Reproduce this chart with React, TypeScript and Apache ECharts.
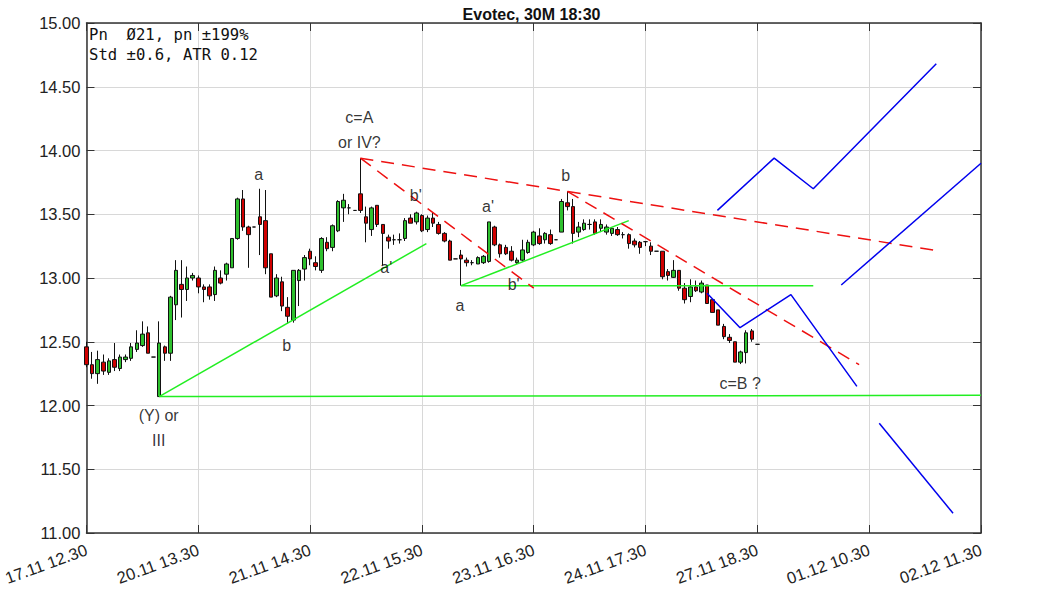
import React, { useEffect, useRef } from "react";
import * as echarts from "echarts";

const tickLabels = ["17.11 12.30", "20.11 13.30", "21.11 14.30", "22.11 15.30", "23.11 16.30", "24.11 17.30", "27.11 18.30", "01.12 10.30", "02.12 11.30"];
const slotCount = 161;
const labelStep = 20;

// [open, close, low, high]
const candles: number[][] = [
  [12.46, 12.32, 12.30, 12.50], [12.32, 12.25, 12.21, 12.42], [12.25, 12.36, 12.17, 12.43], [12.34, 12.27, 12.24, 12.40],
  [12.26, 12.35, 12.24, 12.37], [12.36, 12.30, 12.27, 12.49], [12.29, 12.38, 12.27, 12.40], [12.36, 12.38, 12.34, 12.40],
  [12.37, 12.46, 12.35, 12.49], [12.44, 12.49, 12.42, 12.59], [12.47, 12.56, 12.46, 12.66], [12.57, 12.41, 12.41, 12.62],
  [12.38, 12.38, 12.38, 12.38], [12.07, 12.49, 12.07, 12.66], [12.46, 12.41, 12.35, 12.47], [12.41, 12.85, 12.35, 12.86],
  [12.79, 13.06, 12.67, 13.14], [12.95, 12.91, 12.69, 13.14], [12.91, 13.00, 12.82, 13.09], [13.00, 13.02, 12.98, 13.04],
  [13.00, 12.93, 12.88, 13.02], [12.93, 12.91, 12.81, 12.95], [12.93, 12.86, 12.83, 12.95], [12.87, 13.06, 12.82, 13.09],
  [13.00, 12.96, 12.95, 13.06], [13.03, 13.11, 12.98, 13.12], [13.08, 13.31, 13.08, 13.31], [13.31, 13.62, 13.30, 13.63],
  [13.62, 13.40, 13.37, 13.69], [13.40, 13.34, 13.08, 13.41], [13.40, 13.40, 13.40, 13.40], [13.48, 13.42, 13.18, 13.70],
  [13.45, 13.08, 13.03, 13.69], [13.19, 12.85, 12.85, 13.19], [12.86, 13.00, 12.85, 13.03], [12.97, 12.78, 12.74, 13.01],
  [12.77, 12.70, 12.64, 12.85], [12.67, 13.06, 12.65, 13.06], [12.98, 13.06, 12.78, 13.07], [13.07, 13.16, 12.98, 13.18],
  [13.21, 13.15, 13.10, 13.23], [13.12, 13.09, 13.06, 13.17], [13.06, 13.31, 13.04, 13.32], [13.28, 13.23, 13.21, 13.32],
  [13.24, 13.41, 13.21, 13.42], [13.37, 13.60, 13.36, 13.61], [13.55, 13.61, 13.44, 13.66], [13.55, 13.55, 13.50, 13.58],
  [13.53, 13.53, 13.53, 13.53], [13.66, 13.53, 13.51, 13.94], [13.48, 13.43, 13.28, 13.56], [13.38, 13.55, 13.33, 13.56],
  [13.57, 13.42, 13.40, 13.57], [13.42, 13.35, 13.10, 13.42], [13.32, 13.29, 13.23, 13.34], [13.30, 13.30, 13.26, 13.34],
  [13.30, 13.30, 13.27, 13.35], [13.31, 13.45, 13.29, 13.47], [13.47, 13.43, 13.43, 13.50], [13.44, 13.51, 13.42, 13.52],
  [13.49, 13.37, 13.36, 13.50], [13.38, 13.47, 13.36, 13.49], [13.47, 13.43, 13.40, 13.51], [13.42, 13.35, 13.34, 13.44],
  [13.35, 13.29, 13.28, 13.36], [13.29, 13.14, 13.14, 13.30], [13.15, 13.15, 13.15, 13.15], [13.18, 13.15, 12.94, 13.22],
  [13.14, 13.12, 13.09, 13.16], [13.12, 13.12, 13.10, 13.14], [13.11, 13.16, 13.11, 13.17], [13.12, 13.17, 13.11, 13.18],
  [13.13, 13.44, 13.12, 13.44], [13.40, 13.26, 13.25, 13.41], [13.26, 13.19, 13.16, 13.27], [13.24, 13.19, 13.18, 13.26],
  [13.21, 13.14, 13.13, 13.25], [13.12, 13.14, 13.11, 13.16], [13.14, 13.22, 13.13, 13.30], [13.20, 13.28, 13.19, 13.30],
  [13.26, 13.36, 13.25, 13.37], [13.33, 13.27, 13.26, 13.39], [13.30, 13.35, 13.27, 13.36], [13.34, 13.27, 13.26, 13.38],
  [13.30, 13.30, 13.30, 13.30], [13.36, 13.60, 13.36, 13.62], [13.59, 13.56, 13.53, 13.68], [13.56, 13.35, 13.27, 13.62],
  [13.36, 13.40, 13.32, 13.44], [13.38, 13.43, 13.37, 13.46], [13.42, 13.42, 13.38, 13.46], [13.44, 13.35, 13.34, 13.46],
  [13.39, 13.42, 13.36, 13.46], [13.36, 13.40, 13.34, 13.42], [13.35, 13.39, 13.33, 13.40], [13.38, 13.34, 13.33, 13.40],
  [13.34, 13.34, 13.31, 13.36], [13.34, 13.27, 13.23, 13.35], [13.29, 13.26, 13.24, 13.31], [13.28, 13.24, 13.19, 13.29],
  [13.285, 13.285, 13.25, 13.29], [13.25, 13.21, 13.18, 13.28], [13.21, 13.21, 13.21, 13.21], [13.21, 13.01, 12.99, 13.21],
  [13.05, 13.02, 12.98, 13.07], [13.005, 13.06, 13.00, 13.14], [13.06, 12.92, 12.90, 13.06], [12.92, 12.83, 12.80, 12.96],
  [12.855, 12.93, 12.81, 12.99], [12.93, 12.90, 12.89, 12.98], [12.89, 12.96, 12.88, 12.98], [12.945, 12.80, 12.80, 12.945],
  [12.83, 12.73, 12.73, 12.83], [12.75, 12.63, 12.63, 12.75], [12.62, 12.54, 12.52, 12.64], [12.535, 12.51, 12.49, 12.56],
  [12.50, 12.34, 12.34, 12.50], [12.34, 12.42, 12.325, 12.43], [12.415, 12.57, 12.33, 12.59], [12.585, 12.52, 12.50, 12.60],
  [12.48, 12.48, 12.48, 12.48],
];

const greenLines: number[][][] = [
  [[13, 12.07], [60.8, 13.27]],
  [[13, 12.07], [160, 12.08]],
  [[67, 12.94], [130, 12.94]],
  [[67, 12.94], [97, 13.45]],
];

const redLines: number[][][] = [
  [[49, 13.94], [152.7, 13.21]],
  [[49, 13.94], [80, 12.92]],
  [[86, 13.68], [138.2, 12.32]],
];

const blueLines: number[][][] = [
  [[111, 12.88], [116.9, 12.61], [126, 12.87], [137.8, 12.15]],
  [[112.85, 13.53], [123, 13.94], [130, 13.70], [152, 14.68]],
  [[135, 12.945], [160, 13.90]],
  [[141.8, 11.86], [155, 11.155]],
];

const annotations: { text: string; x: number; y: number }[] = [
  { text: "a", x: 30.9, y: 13.81 },
  { text: "b", x: 35.9, y: 12.47 },
  { text: "c=A\nor IV?", x: 48.9, y: 14.16 },
  { text: "b'", x: 59.0, y: 13.64 },
  { text: "a'", x: 53.7, y: 13.08 },
  { text: "a", x: 66.9, y: 12.78 },
  { text: "a'", x: 71.9, y: 13.56 },
  { text: "b'", x: 76.5, y: 12.945 },
  { text: "b", x: 85.8, y: 13.8 },
  { text: "c=B ?", x: 117.0, y: 12.17 },
  { text: "(Y) or\nIII", x: 13.0, y: 11.82 },
];

const infoLines = ["Pn  Ø21, pn ±199%", "Std ±0.6, ATR 0.12"];

export default function App() {
  const ref = useRef<HTMLDivElement>(null);
  useEffect(() => {
    if (!ref.current) return;
    const chart = echarts.init(ref.current, null, { renderer: "svg" });
    const categories = Array.from({ length: slotCount }, (_, i) => String(i));
    const font = "Liberation Sans, Arial, Helvetica, sans-serif";
    const frame = { show: true, lineStyle: { color: "#333", width: 1.5 } };
    const lineSeries = (segs: number[][][], color: string, type: any, width: number) =>
      segs.map((seg) => ({
        type: "line",
        xAxisIndex: 1,
        yAxisIndex: 0,
        data: seg,
        symbol: "none",
        silent: true,
        z: 5,
        lineStyle: { color, width, type },
      }));

    chart.setOption({
      animation: false,
      backgroundColor: "#fff",
      title: {
        text: "Evotec, 30M 18:30",
        left: "center",
        top: 1,
        textStyle: { fontSize: 16, fontWeight: "bold", color: "#111", fontFamily: font },
      },
      grid: { left: 84, right: 82, top: 23, bottom: 58 },
      graphic: [
        {
          type: "text",
          left: 89,
          top: 25,
          z: 10,
          style: {
            text: infoLines.join("\n"),
            font: "15.6px 'DejaVu Sans Mono', monospace",
            lineHeight: 20,
            fill: "#111",
          },
        },
      ],
      xAxis: [
        {
          type: "category",
          data: categories,
          boundaryGap: false,
          axisLine: frame,
          axisTick: { show: true, inside: true, length: 8, interval: labelStep - 1, lineStyle: { color: "#333" } },
          axisLabel: {
            interval: labelStep - 1,
            rotate: 20,
            margin: 16,
            fontSize: 16.5,
            color: "#222",
            fontFamily: font,
            formatter: (_v: string, idx: number) => (idx % labelStep === 0 ? tickLabels[idx / labelStep] : ""),
          },
          splitLine: { show: true, interval: labelStep - 1, lineStyle: { color: "#d8d8d8", width: 1 } },
        },
        { type: "value", min: 0, max: slotCount - 1, show: false },
        {
          type: "category",
          data: categories,
          boundaryGap: false,
          position: "top",
          axisLine: frame,
          axisTick: { show: true, inside: true, length: 8, interval: labelStep - 1, lineStyle: { color: "#333" } },
          axisLabel: { show: false },
          splitLine: { show: false },
        },
      ],
      yAxis: [
        {
          type: "value",
          min: 11,
          max: 15,
          interval: 0.5,
          axisLine: frame,
          axisTick: { show: true, inside: true, length: 8, lineStyle: { color: "#333" } },
          axisLabel: { fontSize: 16.5, color: "#222", fontFamily: font, margin: 6, formatter: (v: number) => v.toFixed(2) },
          splitLine: { show: true, lineStyle: { color: "#d8d8d8", width: 1 } },
        },
        {
          type: "value",
          min: 11,
          max: 15,
          interval: 0.5,
          position: "right",
          axisLine: frame,
          axisTick: { show: true, inside: true, length: 8, lineStyle: { color: "#333" } },
          axisLabel: { show: false },
          splitLine: { show: false },
        },
      ],
      series: [
        {
          type: "candlestick",
          xAxisIndex: 0,
          yAxisIndex: 0,
          data: candles,
          barWidth: 4,
          z: 3,
          itemStyle: {
            color: "#2ec02e",
            color0: "#d00000",
            borderColor: "#111",
            borderColor0: "#111",
            borderWidth: 1,
          },
        },
        ...lineSeries(greenLines, "#22ee22", "solid", 1.5),
        ...lineSeries(redLines, "#ee1111", [13, 8], 1.5),
        ...lineSeries(blueLines, "#0000ee", "solid", 1.5),
        {
          type: "scatter",
          xAxisIndex: 1,
          yAxisIndex: 0,
          symbolSize: 1,
          silent: true,
          z: 8,
          itemStyle: { color: "rgba(0,0,0,0)" },
          data: annotations.map((a) => ({ name: a.text, value: [a.x, a.y] })),
          label: {
            show: true,
            position: [0, 0],
            align: "center",
            verticalAlign: "middle",
            formatter: "{b}",
            fontSize: 16,
            lineHeight: 25,
            color: "#000",
            fontFamily: font,
          },
        },
      ],
    });
    return () => chart.dispose();
  }, []);
  return <div ref={ref} style={{ position: "fixed", left: 0, top: 0, width: 1063, height: 591 }} />;
}
